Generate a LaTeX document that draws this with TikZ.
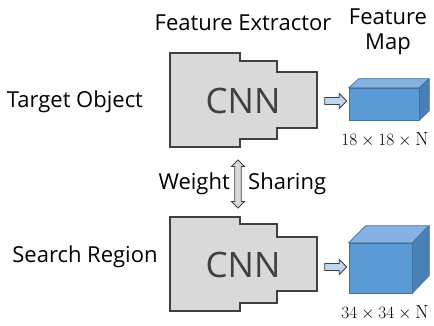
\documentclass[tikz,border=0pt]{standalone}
\usepackage{amsmath,amssymb}
\usepackage{fontspec}
\setsansfont{Open Sans}
\usetikzlibrary{shapes.arrows}

\definecolor{cnngray}{HTML}{D9D9D9}
\definecolor{edgegray}{HTML}{404040}
\definecolor{mapfront}{HTML}{5B9BD5}
\definecolor{maptop}{HTML}{85B2E2}
\definecolor{mapside}{HTML}{4A7FB5}
\definecolor{mapedge}{HTML}{41719C}
\definecolor{arrowblue}{HTML}{BDD7EE}

\tikzset{
  lbl/.style={font=\sffamily\fontsize{22}{24}\selectfont, inner sep=0pt},
  cnn/.style={draw=edgegray, fill=cnngray, line width=1.4pt},
  cnntext/.style={font=\sffamily\fontsize{35}{37}\selectfont, text=edgegray},
  fmap/.style={draw=mapedge, fill=mapfront, line width=0.6pt, inner sep=0pt},
  dims/.style={font=\fontsize{19}{21}\selectfont, inner sep=0pt},
  blockarrow/.style={single arrow, draw=edgegray, fill=arrowblue, line width=0.8pt,
    minimum height=22pt, minimum width=15pt, single arrow head extend=3.5pt, inner sep=2.8pt},
}

\begin{document}
\begin{tikzpicture}[x=1pt,y=-1pt]
  \useasboundingbox (0,0) rectangle (434,325);

  % column headings
  \path (243,23) node[lbl] (extractor) {Feature Extractor};
  \path (388,17) node[lbl] (feat) {Feature};
  \path (388,44) node[lbl] (map) {Map};

  % input labels
  \path (75,102) node[lbl] (target) {Target Object};
  \path (85,257) node[lbl] (search) {Search Region};

  % the two CNN blocks
  \begin{scope}[shift={(0,100)}]
    \draw[cnn] (170,-47) -- (240,-47) -- (240,-39) -- (277,-39) -- (277,-28) -- (317,-28)
      -- (317,28) -- (277,28) -- (277,39) -- (240,39) -- (240,47) -- (170,47) -- cycle;
    \path (243,1) node[cnntext] (cnnA) {CNN};
  \end{scope}
  \begin{scope}[shift={(0,264)}]
    \draw[cnn] (170,-47) -- (240,-47) -- (240,-40) -- (277,-40) -- (277,-27) -- (317,-27)
      -- (317,27) -- (277,27) -- (277,39) -- (240,39) -- (240,47) -- (170,47) -- cycle;
    \path (243,1) node[cnntext] (cnnB) {CNN};
  \end{scope}

  % shared weights
  \path (238,184) node[double arrow, draw=edgegray, fill=cnngray, line width=0.8pt, rotate=90,
    minimum height=48pt, minimum width=13pt, double arrow head extend=3pt, inner sep=2.5pt] (share) {};
  \path (share.center) ++(-8,0) node[lbl, anchor=east] (weight) {Weight};
  \path (share.center) ++(10,0) node[lbl, anchor=west] (sharing) {Sharing};

  % feature maps (front faces)
  \path (384,104) node[fmap, minimum width=70pt, minimum height=32pt] (mapA) {};
  \path (380.5,268) node[fmap, minimum width=63pt, minimum height=50pt] (mapB) {};
  \filldraw[draw=mapedge, fill=maptop, line width=0.6pt]
    (mapA.north west) -- ++(10,-9) -- ++(70,0) -- (mapA.north east) -- cycle;
  \filldraw[draw=mapedge, fill=mapside, line width=0.6pt]
    (mapA.north east) -- ++(10,-9) -- ++(0,32) -- (mapA.south east) -- cycle;
  \filldraw[draw=mapedge, fill=maptop, line width=0.6pt]
    (mapB.north west) -- ++(17,-17) -- ++(63,0) -- (mapB.north east) -- cycle;
  \filldraw[draw=mapedge, fill=mapside, line width=0.6pt]
    (mapB.north east) -- ++(17,-17) -- ++(0,50) -- (mapB.south east) -- cycle;

  % CNN -> feature map
  \path (334,101) node[blockarrow] (toA) {};
  \path (334,267) node[blockarrow] (toB) {};

  \path (385,140) node[dims] (sizeA) {$18 \times 18 \times \mathrm{N}$};
  \path (385,313) node[dims] (sizeB) {$34 \times 34 \times \mathrm{N}$};
\end{tikzpicture}
\end{document}
